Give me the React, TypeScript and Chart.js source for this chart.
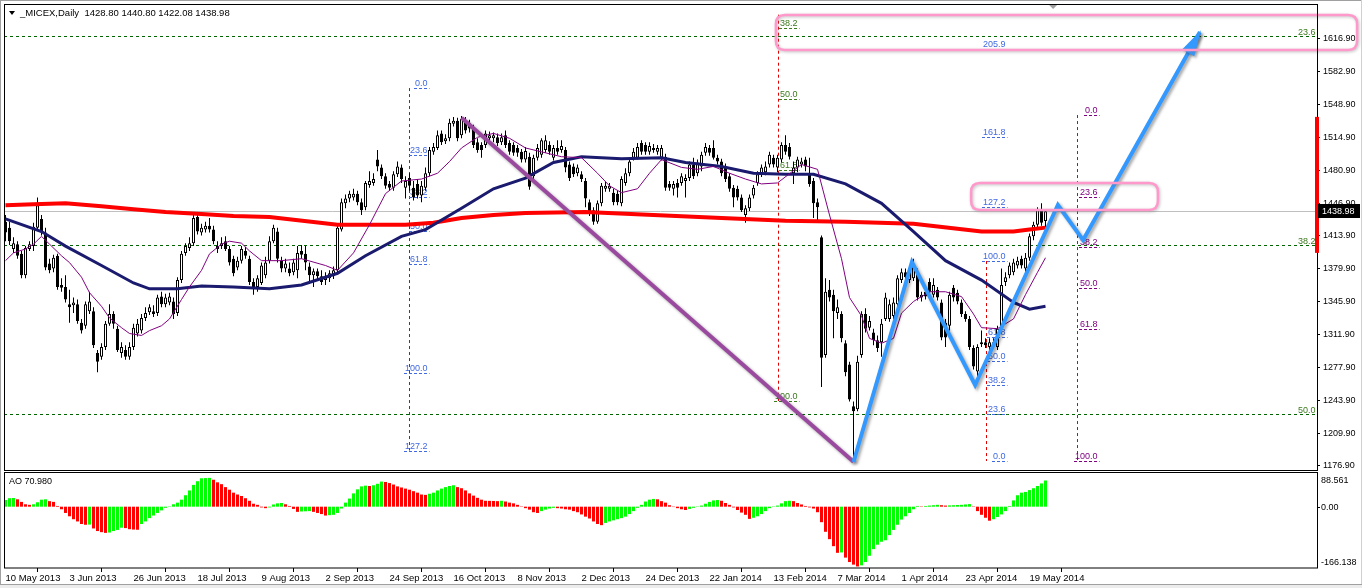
import React, { useEffect, useRef } from "react";
import { Chart, registerables } from "chart.js";

Chart.register(...registerables);

const FONT_FAMILY = '"Liberation Sans", Arial, sans-serif';

// ---------- price data (daily candles, index 0 = 10 May 2013) ----------
const opens = [
  1428,1422,1400,1405,1395,1373,1400,1403,1422,1431,
  1417,1385,1380,1393,1363,1361,1343,1342,1343,1324,
  1321,1336,1336,1293,1289,1299,1323,1333,1318,1293,
  1296,1289,1299,1313,1316,1329,1335,1336,1334,1351,
  1343,1345,1346,1334,1368,1396,1401,1406,1433,1417,
  1420,1424,1420,1403,1403,1408,1400,1390,1381,1388,
  1398,1390,1366,1361,1365,1373,1388,1408,1418,1388,
  1380,1380,1376,1378,1398,1395,1382,1373,1377,1372,
  1368,1370,1372,1378,1420,1447,1452,1453,1457,1448,
  1443,1466,1468,1492,1484,1475,1467,1463,1477,1484,
  1463,1473,1463,1467,1455,1463,1478,1500,1504,1519,
  1511,1514,1529,1532,1517,1532,1530,1525,1510,1507,
  1507,1514,1514,1515,1510,1517,1509,1507,1504,1500,
  1492,1495,1475,1494,1497,1502,1507,1494,1504,1502,
  1502,1487,1485,1478,1477,1470,1448,1440,1428,1447,
  1462,1462,1458,1457,1447,1468,1478,1494,1494,1509,
  1507,1500,1502,1500,1494,1495,1467,1462,1468,1468,
  1470,1473,1487,1478,1485,1499,1504,1504,1494,1490,
  1485,1475,1463,1462,1453,1435,1442,1455,1468,1477,
  1479,1487,1494,1484,1492,1507,1505,1478,1484,1487,
  1492,1478,1470,1448,1412,1291,1358,1353,1334,1333,
  1303,1281,1238,1235,1291,1333,1319,1314,1306,1304,
  1328,1328,1331,1343,1368,1376,1368,1370,1376,1350,
  1356,1366,1353,1358,1345,1324,1321,1360,1355,1345,
  1333,1328,1298,1274,1302,1304,1299,1304,1299,1318,
  1366,1373,1376,1383,1390,1380,1391,1413,1425,1440,
  1428.8,
];
const highs = [
  1435,1428,1412,1408,1398,1403,1408,1427,1453,1435,
  1422,1390,1394,1395,1370,1373,1358,1350,1348,1328,
  1346,1356,1340,1296,1303,1326,1343,1336,1321,1304,
  1301,1304,1323,1328,1333,1340,1343,1342,1353,1356,
  1354,1355,1350,1371,1398,1406,1412,1435,1438,1426,
  1428,1432,1424,1408,1412,1413,1403,1393,1392,1403,
  1402,1393,1370,1373,1386,1392,1413,1425,1422,1392,
  1390,1386,1390,1403,1404,1403,1386,1380,1380,1378,
  1376,1378,1382,1425,1452,1456,1460,1462,1460,1452,
  1470,1480,1478,1502,1487,1478,1470,1480,1490,1487,
  1475,1478,1470,1472,1470,1484,1505,1509,1522,1522,
  1518,1534,1536,1535,1537,1536,1533,1528,1514,1510,
  1522,1521,1520,1519,1519,1522,1512,1510,1507,1503,
  1505,1499,1497,1508,1514,1517,1511,1507,1512,1512,
  1505,1490,1488,1487,1480,1473,1451,1443,1450,1468,
  1469,1468,1462,1460,1475,1483,1494,1504,1509,1512,
  1510,1510,1508,1507,1507,1498,1470,1470,1472,1478,
  1477,1490,1494,1492,1500,1509,1507,1512,1497,1493,
  1488,1478,1466,1465,1456,1445,1456,1466,1480,1487,
  1490,1500,1497,1497,1510,1517,1509,1490,1495,1494,
  1495,1494,1473,1452,1414,1370,1368,1358,1348,1336,
  1306,1284,1243,1290,1336,1339,1331,1318,1311,1328,
  1355,1348,1350,1373,1380,1380,1382,1390,1380,1356,
  1360,1370,1370,1361,1348,1328,1356,1363,1358,1348,
  1336,1331,1301,1302,1316,1308,1308,1308,1321,1380,
  1376,1386,1390,1392,1393,1396,1416,1428,1443,1447,
  1440.8,
];
const lows = [
  1408,1404,1396,1390,1370,1370,1398,1398,1420,1414,
  1378,1375,1376,1358,1356,1345,1324,1334,1323,1313,
  1318,1333,1298,1273,1286,1296,1321,1318,1294,1288,
  1286,1286,1296,1310,1313,1326,1332,1330,1331,1340,
  1340,1342,1328,1331,1365,1393,1398,1403,1415,1414,
  1417,1417,1405,1396,1400,1398,1383,1372,1378,1385,
  1390,1363,1353,1356,1363,1370,1385,1406,1386,1376,
  1376,1372,1373,1370,1390,1378,1366,1361,1368,1363,
  1363,1366,1369,1375,1418,1442,1448,1450,1445,1435,
  1440,1463,1465,1480,1472,1462,1460,1460,1474,1468,
  1452,1460,1450,1452,1448,1460,1475,1497,1502,1507,
  1508,1511,1526,1511,1514,1519,1520,1504,1499,1494,
  1504,1511,1510,1506,1507,1504,1497,1496,1495,1489,
  1489,1461,1472,1491,1494,1499,1497,1491,1497,1499,
  1479,1470,1474,1475,1469,1443,1434,1425,1426,1444,
  1459,1459,1445,1445,1444,1465,1475,1491,1492,1497,
  1497,1497,1499,1497,1491,1460,1460,1455,1453,1465,
  1453,1470,1472,1475,1480,1496,1496,1492,1487,1475,
  1469,1459,1443,1450,1438,1427,1439,1452,1465,1474,
  1476,1484,1484,1479,1489,1497,1492,1467,1479,1484,
  1480,1464,1432,1428,1258,1288,1346,1308,1328,1304,
  1269,1243,1181,1233,1288,1314,1316,1301,1294,1289,
  1326,1325,1328,1340,1365,1367,1365,1367,1347,1346,
  1348,1353,1350,1347,1306,1299,1316,1346,1343,1330,
  1325,1296,1276,1268,1299,1298,1296,1298,1296,1316,
  1362,1370,1373,1380,1380,1373,1388,1409,1422,1424,
  1422.08,
];
const closes = [
  1417,1408,1406,1393,1373,1401,1405,1423,1445,1417,
  1381,1378,1391,1361,1360,1348,1340,1345,1326,1316,
  1343,1346,1301,1284,1299,1323,1333,1323,1296,1299,
  1289,1299,1319,1323,1329,1334,1340,1333,1350,1343,
  1350,1351,1333,1368,1395,1403,1406,1432,1418,1422,
  1424,1420,1408,1400,1406,1400,1386,1375,1388,1400,
  1393,1366,1361,1370,1383,1386,1408,1422,1390,1380,
  1385,1375,1386,1396,1394,1386,1373,1377,1372,1366,
  1371,1375,1378,1422,1448,1452,1457,1457,1448,1440,
  1468,1470,1472,1485,1475,1465,1463,1477,1485,1472,
  1470,1465,1453,1455,1465,1478,1502,1505,1517,1510,
  1514,1530,1532,1514,1534,1522,1524,1507,1502,1502,
  1519,1517,1517,1509,1515,1507,1500,1499,1499,1492,
  1501,1464,1494,1504,1512,1512,1500,1504,1500,1506,
  1484,1473,1477,1484,1472,1452,1437,1428,1447,1465,
  1465,1465,1448,1448,1472,1478,1490,1500,1505,1500,
  1500,1506,1504,1504,1504,1463,1463,1467,1463,1475,
  1473,1487,1475,1489,1497,1505,1499,1494,1490,1478,
  1472,1462,1453,1453,1440,1442,1453,1463,1477,1484,
  1485,1497,1487,1494,1507,1500,1495,1484,1492,1490,
  1485,1467,1447,1443,1288,1356,1350,1336,1340,1308,
  1273,1245,1233,1284,1333,1318,1326,1306,1298,1323,
  1350,1343,1345,1370,1376,1371,1380,1383,1350,1353,
  1351,1356,1363,1350,1309,1309,1353,1350,1346,1333,
  1328,1299,1279,1299,1304,1301,1304,1301,1318,1363,
  1371,1383,1386,1388,1383,1391,1413,1425,1440,1427,
  1438.98,
];

// ---------- moving averages (bar index / value) ----------
const redMaIdx = [0,7,15,24,32,40,49,57,66,83,100,107,114,122,130,145,162,179,195,210,227,244,252,256,260];
const redMaVal = [1445,1446,1447,1444,1441,1438,1436,1434,1433,1425,1425,1427,1432,1435,1437,1438,1435,1432,1429,1428,1426,1418,1418,1420,1422];
const navyMaIdx = [0,9,15,24,32,36,43,49,57,66,74,83,90,99,105,114,122,130,137,144,154,164,170,179,187,195,202,210,219,227,235,244,252,256,260];
const navyMaVal = [1431,1418,1403,1383,1365,1359,1359,1362,1361,1359,1363,1375,1393,1413,1420,1442,1462,1473,1489,1495,1493,1494,1489,1485,1478,1477,1477,1467,1447,1418,1388,1368,1345,1338,1341];
const purpleMaIdx = [0,2,5,7,9,11,14,16,19,21,24,26,29,31,34,36,39,41,44,46,49,51,54,56,59,61,64,69,74,80,83,87,91,95,99,104,108,111,114,118,122,126,130,134,139,144,148,151,154,158,161,164,169,173,177,181,185,189,193,199,203,206,209,211,214,216,219,222,224,227,231,235,239,242,244,248,252,255,258,260];
const purpleMaVal = [1388,1396,1400,1405,1413,1405,1393,1386,1371,1355,1341,1329,1319,1313,1311,1316,1321,1328,1348,1361,1378,1395,1405,1408,1406,1398,1388,1388,1390,1383,1378,1396,1425,1457,1470,1472,1478,1490,1504,1515,1519,1514,1504,1500,1495,1494,1478,1465,1458,1462,1478,1492,1484,1482,1485,1478,1472,1467,1468,1487,1482,1435,1390,1350,1331,1308,1303,1308,1334,1346,1356,1356,1351,1333,1319,1318,1328,1353,1376,1391];

// ---------- Awesome Oscillator ----------
const aoValues = [
  18,23,23.5,20,13,6.5,5,6.5,12,19,
  20,15,13,2,-7,-17,-26,-34,-40,-47,
  -49,-48.5,-59,-66,-69,-71,-70,-66,-63,-57,
  -58,-61,-62,-62.5,-47,-40,-31,-24,-17,-10,
  -3,1,6.5,11,19,31,44,59,69,77,
  77.5,78,73,66,61,53,46,38,33,29,
  23,16,8,5,-2,-4,-2,6,9,10,
  6.5,2,-6,-14,-13,-12.5,-12,-14,-17,-20,
  -24,-23,-22,-17,-5,11,22,36,47,55,
  57,56,58,62,68,67,64,60,55,52,
  49,46,42,38,33,32,35,38,44,49,
  53,56,58,53,50,44,36,30,24,19,
  16,15.8,15.5,15,16,14,11,9,5,1,
  -4,-8,-15,-17,-12,-8,-5,-3,-4,-5,
  -7,-8,-12,-15,-21,-27,-32,-40,-47,-50,
  -44,-40,-37,-34,-31,-27,-20,-12,-3,5,
  14,19,21,20,15,11,4,-1,-4,-7,
  -9,-6,-3,1,3,8,13,17,18,16,
  10,5,-2,-9,-16,-22,-33,-30,-26,-20,
  -12,-4,1,3,9,15,16,15,10,6,
  2,-2,-5,-15,-42,-68,-88,-107,-125,-124,
  -138,-150,-157,-162,-159,-150,-133,-115,-103,-95,
  -91,-77,-63,-49,-35,-26,-17,-7,2,1,
  2,3,4,5,4,3,3.5,4,4.5,5,
  6,7,1,-12,-22,-30,-38,-34,-28,-21,
  -12,2,17,31,38,40,45,50,56,63,
  70.98,
];

// ---------- axes ----------
const priceTicks = [1176.9,1209.9,1243.9,1277.9,1311.9,1345.9,1379.9,1413.9,1446.9,1480.9,1514.9,1548.9,1582.9,1616.9];
const dateTickIdx = [0,16,32,48,64,80,96,112,128,144,160,176,192,208,224,240,256];
const dateLabels = ["10 May 2013","3 Jun 2013","26 Jun 2013","18 Jul 2013","9 Aug 2013","2 Sep 2013","24 Sep 2013","16 Oct 2013","8 Nov 2013","2 Dec 2013","24 Dec 2013","22 Jan 2014","13 Feb 2014","7 Mar 2014","1 Apr 2014","23 Apr 2014","19 May 2014"];
const aoAxisLabels = [88.561, 0, -166.138];
const aoMax = 88.561;
const aoMin = -166.138;

const symbolTitle = "_MICEX,Daily";
const lastOHLC = [1428.80, 1440.80, 1422.08, 1438.98];

// ---------- drawing objects ----------
const zigIdx = [212, 226.6, 242.4, 263.1, 269.4, 298.6];
const zigVal = [1180.7, 1386.6, 1260, 1445.3, 1409.2, 1623.4];
const trendIdx = [114, 212];
const trendVal = [1535, 1181];

// fib: vertical-line index, label right-edge index, price at 0%, price at 100%
const fibBlueLeftLevels = [0, 23.6, 38.2, 50, 61.8, 100, 127.2];
const fibBlueLeftAnchor = [100.9, 105.6, 1565.7, 1272.3];
const fibGreenMidLevels = [38.2, 50, 61.8, 100];
const fibGreenMidAnchor = [193.1, 197.9, 1864.9, 1243.5];
const fibBlueRightLevels = [0, 23.6, 38.2, 50, 61.8, 100, 127.2, 161.8, 205.9];
const fibBlueRightAnchor = [245.1, 250.1, 1181.7, 1387.6];
const fibPurpleLevels = [0, 23.6, 38.2, 50, 61.8, 100];
const fibPurpleAnchor = [267.9, 272.9, 1537.9, 1181.7];
const fibWideLevels = [23.6, 38.2, 50];
const fibWideAnchor = [1966.7, 493.2];

const pinkBoxIdx = [[192.6, 337.9], [241.4, 288.1]];
const pinkBoxVal = [[1640.9, 1604.8], [1467.9, 1440.1]];
const axisRangeBar = [1536, 1396];

const X_MIN = -0.375;
const X_MAX = 327.875;
const Y_MIN = 1172.5;
const Y_MAX = 1652.2;

const BLUE = "#4169E1";
const GREEN_TXT = "#3C7A1E";
const PURPLE_TXT = "#800080";
const VLINE = "#E00000";

function pts(idx: number[], val: number[]) {
  return idx.map((x, k) => ({ x, y: val[k] }));
}
function fibPrice(p0: number, p100: number, lvl: number) {
  return p0 + ((p100 - p0) * lvl) / 100;
}

function drawLabel(ctx: CanvasRenderingContext2D, text: string, xRight: number, yLevel: number, color: string, underline: boolean) {
  ctx.font = `9px ${FONT_FAMILY}`;
  ctx.textBaseline = "alphabetic";
  ctx.textAlign = "left";
  const w = ctx.measureText(text).width;
  const xl = Math.round(xRight - w);
  ctx.fillStyle = color;
  ctx.fillText(text, xl, Math.round(yLevel) - 2);
  if (underline) {
    ctx.strokeStyle = color;
    ctx.lineWidth = 1;
    ctx.setLineDash([3, 2]);
    ctx.beginPath();
    const yy = Math.round(yLevel) + 0.5;
    ctx.moveTo(xl - 1, yy);
    ctx.lineTo(xl + w + 2, yy);
    ctx.stroke();
    ctx.setLineDash([]);
  }
}

function drawVLine(ctx: CanvasRenderingContext2D, x: number, y1: number, y2: number) {
  ctx.strokeStyle = VLINE;
  ctx.lineWidth = 1;
  ctx.setLineDash([3, 3]);
  ctx.beginPath();
  const xx = Math.round(x) + 0.5;
  ctx.moveTo(xx, y1);
  ctx.lineTo(xx, y2);
  ctx.stroke();
  ctx.setLineDash([]);
}

function roundRectPath(ctx: CanvasRenderingContext2D, x: number, y: number, w: number, h: number, r: number) {
  ctx.beginPath();
  ctx.moveTo(x + r, y);
  ctx.lineTo(x + w - r, y);
  ctx.quadraticCurveTo(x + w, y, x + w, y + r);
  ctx.lineTo(x + w, y + h - r);
  ctx.quadraticCurveTo(x + w, y + h, x + w - r, y + h);
  ctx.lineTo(x + r, y + h);
  ctx.quadraticCurveTo(x, y + h, x, y + h - r);
  ctx.lineTo(x, y + r);
  ctx.quadraticCurveTo(x, y, x + r, y);
  ctx.closePath();
}

const mainPlugin = {
  id: "mt4main",
  beforeDatasetsDraw(chart: any) {
    const { ctx, chartArea: a, scales } = chart;
    const xs = scales.x;
    const ys = scales.y;
    ctx.save();
    ctx.beginPath();
    ctx.rect(a.left, a.top, a.right - a.left, a.bottom - a.top);
    ctx.clip();
    // current price line
    const yc = Math.round(ys.getPixelForValue(lastOHLC[3])) + 0.5;
    ctx.strokeStyle = "#C0C0C0";
    ctx.lineWidth = 1;
    ctx.beginPath();
    ctx.moveTo(a.left, yc);
    ctx.lineTo(a.right, yc);
    ctx.stroke();
    // wide green fib levels
    fibWideLevels.forEach((lvl) => {
      const y = Math.round(ys.getPixelForValue(fibPrice(fibWideAnchor[0], fibWideAnchor[1], lvl))) + 0.5;
      ctx.strokeStyle = "#006400";
      ctx.setLineDash([3, 3]);
      ctx.beginPath();
      ctx.moveTo(a.left, y);
      ctx.lineTo(a.right, y);
      ctx.stroke();
      ctx.setLineDash([]);
      drawLabel(ctx, lvl.toFixed(1), a.right - 1, y, GREEN_TXT, false);
    });
    // fib objects
    const fibs = [
      { lv: fibBlueLeftLevels, an: fibBlueLeftAnchor, col: BLUE, v: [0, 127.2] },
      { lv: fibGreenMidLevels, an: fibGreenMidAnchor, col: GREEN_TXT, v: [36, 100] },
      { lv: fibBlueRightLevels, an: fibBlueRightAnchor, col: BLUE, v: [0, 100] },
      { lv: fibPurpleLevels, an: fibPurpleAnchor, col: PURPLE_TXT, v: [0, 100] },
    ];
    fibs.forEach((f) => {
      const xv = xs.getPixelForValue(f.an[0]);
      const y1 = ys.getPixelForValue(fibPrice(f.an[2], f.an[3], f.v[0]));
      const y2 = ys.getPixelForValue(fibPrice(f.an[2], f.an[3], f.v[1]));
      drawVLine(ctx, xv, Math.min(y1, y2), Math.max(y1, y2));
    });
    fibs.forEach((f) => {
      const xr = xs.getPixelForValue(f.an[1]);
      f.lv.forEach((lvl) => {
        const y = ys.getPixelForValue(fibPrice(f.an[2], f.an[3], lvl));
        drawLabel(ctx, lvl.toFixed(1), xr, y, f.col, true);
      });
    });
    ctx.restore();
  },
  beforeDatasetDraw(chart: any, args: any) {
    const lbl = chart.data.datasets[args.index].label;
    if (lbl === "zig" || lbl === "trend") {
      const ctx = chart.ctx;
      ctx.save();
      ctx.shadowColor = "rgba(0,0,0,0.35)";
      ctx.shadowBlur = 3;
      ctx.shadowOffsetX = 2;
      ctx.shadowOffsetY = 2;
    }
  },
  afterDatasetDraw(chart: any, args: any) {
    const lbl = chart.data.datasets[args.index].label;
    if (lbl === "zig" || lbl === "trend") chart.ctx.restore();
  },
  afterDatasetsDraw(chart: any) {
    const { ctx, scales } = chart;
    const xs = scales.x;
    const ys = scales.y;
    // arrow head on zigzag
    const n = zigIdx.length;
    const tx = xs.getPixelForValue(zigIdx[n - 1]);
    const ty = ys.getPixelForValue(zigVal[n - 1]);
    const fx = xs.getPixelForValue(zigIdx[n - 2]);
    const fy = ys.getPixelForValue(zigVal[n - 2]);
    const len = Math.hypot(tx - fx, ty - fy);
    const ux = (tx - fx) / len;
    const uy = (ty - fy) / len;
    const bx = tx - ux * 24;
    const by = ty - uy * 24;
    ctx.save();
    ctx.shadowColor = "rgba(0,0,0,0.35)";
    ctx.shadowBlur = 3;
    ctx.shadowOffsetX = 2;
    ctx.shadowOffsetY = 2;
    ctx.fillStyle = "#3399FF";
    ctx.beginPath();
    ctx.moveTo(tx + ux * 2, ty + uy * 2);
    ctx.lineTo(bx - uy * 7, by + ux * 7);
    ctx.lineTo(bx + uy * 7, by - ux * 7);
    ctx.closePath();
    ctx.fill();
    ctx.restore();
    // pink boxes
    pinkBoxIdx.forEach((bi, k) => {
      const x1 = xs.getPixelForValue(bi[0]);
      const x2 = xs.getPixelForValue(bi[1]);
      const y1 = ys.getPixelForValue(pinkBoxVal[k][0]);
      const y2 = ys.getPixelForValue(pinkBoxVal[k][1]);
      ctx.save();
      ctx.shadowColor = "rgba(120,120,120,0.45)";
      ctx.shadowBlur = 3;
      ctx.shadowOffsetX = 1;
      ctx.shadowOffsetY = 1;
      ctx.strokeStyle = "#FF99CC";
      ctx.lineWidth = 2.5;
      roundRectPath(ctx, x1, y1, x2 - x1, y2 - y1, 9);
      ctx.stroke();
      ctx.restore();
    });
  },
  afterDraw(chart: any) {
    const { ctx, chartArea: a, scales } = chart;
    const xs = scales.x;
    const ys = scales.y;
    ctx.save();
    // window edges
    ctx.fillStyle = "#A0A0A0";
    ctx.fillRect(0, 0, 1362, 1);
    ctx.fillRect(0, 0, 1, 472);
    ctx.fillStyle = "#D0D0D0";
    ctx.fillRect(1361, 0, 1, 472);
    // frame
    ctx.strokeStyle = "#000";
    ctx.lineWidth = 1;
    ctx.strokeRect(a.left + 0.5, a.top + 0.5, a.right - a.left, a.bottom - a.top);
    // shift marker
    const sx = xs.getPixelForValue(261.9);
    ctx.fillStyle = "#A0A0A0";
    ctx.beginPath();
    ctx.moveTo(sx - 4, a.top + 1);
    ctx.lineTo(sx + 4, a.top + 1);
    ctx.lineTo(sx, a.top + 5);
    ctx.closePath();
    ctx.fill();
    // header
    ctx.fillStyle = "#000";
    ctx.beginPath();
    ctx.moveTo(9, 11);
    ctx.lineTo(15, 11);
    ctx.lineTo(12, 15);
    ctx.closePath();
    ctx.fill();
    ctx.font = `9.5px ${FONT_FAMILY}`;
    ctx.textAlign = "left";
    ctx.textBaseline = "alphabetic";
    ctx.fillText(`${symbolTitle}  ${lastOHLC.map((v) => v.toFixed(2)).join(" ")}`, 20, 16);
    // red range bar on axis
    const ry1 = ys.getPixelForValue(axisRangeBar[0]);
    const ry2 = ys.getPixelForValue(axisRangeBar[1]);
    ctx.fillStyle = "#FF0000";
    ctx.fillRect(a.right - 2, ry1, 4, ry2 - ry1);
    // current price box
    const yc = Math.round(ys.getPixelForValue(lastOHLC[3]));
    ctx.fillStyle = "#000";
    ctx.fillRect(a.right + 1, yc - 7, 42, 14);
    ctx.fillStyle = "#FFF";
    ctx.font = `9px ${FONT_FAMILY}`;
    ctx.textBaseline = "middle";
    ctx.fillText(lastOHLC[3].toFixed(2), a.right + 5, yc + 0.5);
    ctx.restore();
  },
};

const aoPlugin = {
  id: "mt4ao",
  afterDraw(chart: any) {
    const { ctx, chartArea: a, scales } = chart;
    const ys = scales.y;
    ctx.save();
    ctx.fillStyle = "#A0A0A0";
    ctx.fillRect(0, 0, 1, 113);
    ctx.fillStyle = "#D0D0D0";
    ctx.fillRect(1361, 0, 1, 113);
    ctx.fillStyle = "#ECECEC";
    ctx.fillRect(0, 113, 1362, 3);
    ctx.fillStyle = "#A0A0A0";
    ctx.fillRect(0, 112, 1362, 1);
    ctx.strokeStyle = "#000";
    ctx.lineWidth = 1;
    ctx.strokeRect(a.left + 0.5, 0.5, a.right - a.left, a.bottom - 0.5);
    ctx.font = `9px ${FONT_FAMILY}`;
    ctx.fillStyle = "#000";
    ctx.textAlign = "left";
    ctx.textBaseline = "middle";
    ctx.fillText(`AO ${aoValues[aoValues.length - 1].toFixed(3)}`, 9, 10);
    // axis labels
    const yTop = a.top + 6;
    const yZero = ys.getPixelForValue(0);
    const yBot = a.bottom - 6;
    const ypos = [yTop, yZero, yBot];
    aoAxisLabels.forEach((v, k) => {
      const txt = k === 1 ? v.toFixed(2) : v.toFixed(3);
      ctx.fillText(txt, a.right + 4, ypos[k] + 0.5);
    });
    ctx.beginPath();
    ctx.moveTo(a.right, Math.round(yZero) + 0.5);
    ctx.lineTo(a.right + 3, Math.round(yZero) + 0.5);
    ctx.stroke();
    ctx.restore();
  },
};

export default function App() {
  const mainRef = useRef<HTMLCanvasElement>(null);
  const aoRef = useRef<HTMLCanvasElement>(null);

  useEffect(() => {
    const wick = highs.map((h, i) => ({ x: i, y: [lows[i], h] }));
    const body = opens.map((o, i) => ({ x: i, y: [Math.min(o, closes[i]), Math.max(o, closes[i])] }));
    const bodyColors = opens.map((o, i) => (closes[i] >= o ? "#FFFFFF" : "#000000"));
    const font = { family: FONT_FAMILY, size: 9 };
    const dateFont = { family: FONT_FAMILY, size: 9.5 };

    const main = new Chart(mainRef.current as HTMLCanvasElement, {
      type: "bar",
      data: {
        datasets: [
          { type: "line", label: "zig", data: pts(zigIdx, zigVal), borderColor: "#3399FF", borderWidth: 4, pointRadius: 0, tension: 0, order: 0 } as any,
          { type: "line", label: "trend", data: pts(trendIdx, trendVal), borderColor: "#9A4A9E", borderWidth: 4, pointRadius: 0, tension: 0, order: 1 } as any,
          { type: "line", label: "ma-fast", data: pts(purpleMaIdx, purpleMaVal), borderColor: "#800080", borderWidth: 1, pointRadius: 0, tension: 0, order: 2 } as any,
          { type: "line", label: "ma-mid", data: pts(navyMaIdx, navyMaVal), borderColor: "#1A1A6E", borderWidth: 3, pointRadius: 0, tension: 0, order: 3 } as any,
          { type: "line", label: "ma-slow", data: pts(redMaIdx, redMaVal), borderColor: "#FF0000", borderWidth: 4, pointRadius: 0, tension: 0, order: 4 } as any,
          { type: "bar", label: "body", data: body, backgroundColor: bodyColors, borderColor: "#000", borderWidth: 1, borderSkipped: false, barThickness: 3, grouped: false, minBarLength: 1, inflateAmount: 0, order: 5 } as any,
          { type: "bar", label: "wick", data: wick, backgroundColor: "#000", borderWidth: 0, barThickness: 1, grouped: false, inflateAmount: 0, order: 6 } as any,
        ],
      },
      options: {
        responsive: false,
        animation: false,
        events: [],
        layout: { padding: { left: 4, top: 4, right: 0, bottom: 2 } },
        plugins: { legend: { display: false }, tooltip: { enabled: false } },
        scales: {
          x: { type: "linear", min: X_MIN, max: X_MAX, offset: false, display: false },
          y: {
            type: "linear",
            position: "right",
            min: Y_MIN,
            max: Y_MAX,
            afterBuildTicks: (s: any) => {
              s.ticks = priceTicks.map((v) => ({ value: v }));
            },
            afterFit: (s: any) => {
              s.width = 45;
              s.paddingTop = 0;
              s.paddingBottom = 0;
            },
            grid: { drawOnChartArea: false, drawTicks: true, tickLength: 3, color: "#000" },
            border: { display: false },
            ticks: { color: "#000", font, padding: 3, autoSkip: false, callback: (v: any) => Number(v).toFixed(2) },
          },
        },
      } as any,
      plugins: [mainPlugin as any],
    });

    const aoColors = aoValues.map((v, i) => (i === 0 || v >= aoValues[i - 1] ? "#00FF00" : "#FF0000"));
    const ao = new Chart(aoRef.current as HTMLCanvasElement, {
      type: "bar",
      data: {
        datasets: [
          { label: "AO", data: aoValues.map((v, i) => ({ x: i, y: v })), backgroundColor: aoColors, borderWidth: 0, barThickness: 3, grouped: false, inflateAmount: 0 } as any,
        ],
      },
      options: {
        responsive: false,
        animation: false,
        events: [],
        layout: { padding: { left: 4, top: 2, right: 45, bottom: 0 } },
        plugins: { legend: { display: false }, tooltip: { enabled: false } },
        scales: {
          x: {
            type: "linear",
            min: X_MIN,
            max: X_MAX,
            offset: false,
            afterBuildTicks: (s: any) => {
              s.ticks = dateTickIdx.map((v) => ({ value: v }));
            },
            afterFit: (s: any) => {
              s.height = 20;
              s.paddingLeft = 0;
              s.paddingRight = 0;
            },
            grid: { drawOnChartArea: false, drawTicks: true, tickLength: 4, color: "#000" },
            border: { display: false },
            ticks: { autoSkip: false, maxRotation: 0, minRotation: 0, align: "start", padding: 1, color: "#000", font: dateFont, callback: (_v: any, i: number) => dateLabels[i] },
          },
          y: { type: "linear", min: aoMin, max: aoMax, display: false },
        },
      } as any,
      plugins: [aoPlugin as any],
    });

    return () => {
      main.destroy();
      ao.destroy();
    };
  }, []);

  return (
    <div style={{ position: "fixed", left: 0, top: 0, width: 1362, height: 588, background: "#fff" }}>
      <canvas ref={mainRef} width={1362} height={472} style={{ position: "absolute", left: 0, top: 0, width: 1362, height: 472 }} />
      <canvas ref={aoRef} width={1362} height={116} style={{ position: "absolute", left: 0, top: 472, width: 1362, height: 116 }} />
    </div>
  );
}
